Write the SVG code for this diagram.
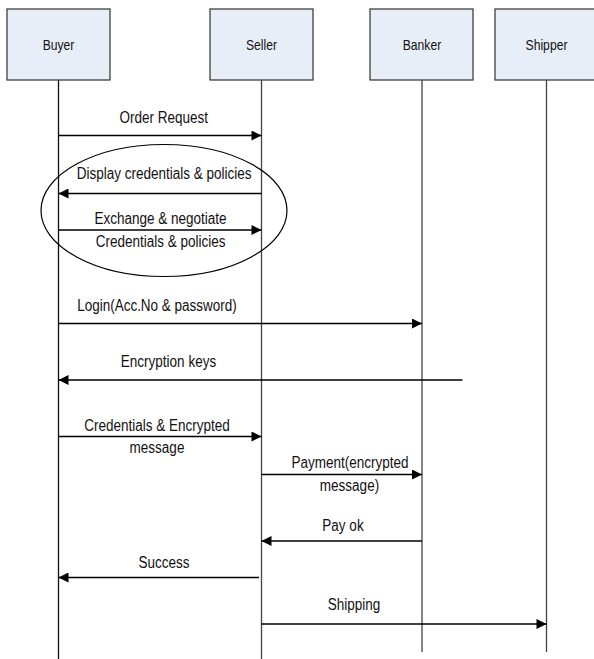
<svg xmlns="http://www.w3.org/2000/svg" width="594" height="659" viewBox="0 0 594 659">
<style>
.box{fill:#E8EEF8;stroke:#404040;stroke-width:1.3}
.life{stroke:#444;stroke-width:1.3;fill:none}
.msg{stroke:#000;stroke-width:1.5;fill:none;marker-end:url(#ah)}
text{font-family:"Liberation Sans Narrow","Liberation Sans",Arial,sans-serif;fill:#111;text-anchor:middle}
.lbl{font-size:16px}
.nl{font-size:15px}
</style>
<defs>
<marker id="ah" viewBox="0 0 10 10" refX="10" refY="5" markerWidth="11" markerHeight="10" markerUnits="userSpaceOnUse" orient="auto">
<path d="M0,0 L10,5 L0,10 Z" fill="#000"/>
</marker>
</defs>
<g id="buyer">
<rect class="box" x="7" y="9" width="103" height="71"/>
<text class="nl" x="58.5" y="50" textLength="31.7" lengthAdjust="spacingAndGlyphs">Buyer</text>
<line class="life" x1="58.5" y1="80" x2="58.5" y2="659" style="stroke:#111"/>
</g>
<g id="seller">
<rect class="box" x="210" y="9" width="103" height="71"/>
<text class="nl" x="261.5" y="50" textLength="31" lengthAdjust="spacingAndGlyphs">Seller</text>
<line class="life" x1="261.5" y1="80" x2="261.5" y2="659"/>
</g>
<g id="banker">
<rect class="box" x="370" y="9" width="103" height="71"/>
<text class="nl" x="422" y="50" textLength="38.5" lengthAdjust="spacingAndGlyphs">Banker</text>
<line class="life" x1="422" y1="80" x2="422" y2="652"/>
</g>
<g id="shipper">
<rect class="box" x="495" y="9" width="103" height="71"/>
<text class="nl" x="546.5" y="50" textLength="41.9" lengthAdjust="spacingAndGlyphs">Shipper</text>
<line class="life" x1="546.5" y1="80" x2="546.5" y2="652"/>
</g>
<g id="negotiation">
<ellipse cx="164" cy="210.5" rx="123" ry="66" fill="none" stroke="#000" stroke-width="1.2"/>
</g>
<g id="connectors">
<line class="msg" x1="58.5" y1="135.5" x2="261.5" y2="135.5"/>
<line class="msg" x1="261.5" y1="193.5" x2="58.5" y2="193.5"/>
<line class="msg" x1="58.5" y1="230" x2="261.5" y2="230"/>
<line class="msg" x1="58.5" y1="323.5" x2="422" y2="323.5"/>
<line class="msg" x1="462.5" y1="380" x2="58.5" y2="380"/>
<line class="msg" x1="58.5" y1="436.5" x2="261.5" y2="436.5"/>
<line class="msg" x1="261.5" y1="474.5" x2="422" y2="474.5"/>
<line class="msg" x1="422" y1="541" x2="261.5" y2="541"/>
<line class="msg" x1="259" y1="577.5" x2="58.5" y2="577.5"/>
<line class="msg" x1="261.5" y1="624" x2="546.5" y2="624"/>
</g>
<g id="labels">
<text class="lbl" x="163.8" y="122.5" textLength="88.5" lengthAdjust="spacingAndGlyphs">Order Request</text>
<text class="lbl" x="164.2" y="178.5" textLength="174.8" lengthAdjust="spacingAndGlyphs">Display credentials &amp; policies</text>
<text class="lbl" x="160.5" y="223.5" textLength="132.1" lengthAdjust="spacingAndGlyphs">Exchange &amp; negotiate</text>
<text class="lbl" x="160.7" y="246.5" textLength="129.8" lengthAdjust="spacingAndGlyphs">Credentials &amp; policies</text>
<text class="lbl" x="157" y="310.5" textLength="159.7" lengthAdjust="spacingAndGlyphs">Login(Acc.No &amp; password)</text>
<text class="lbl" x="168.5" y="366.5" textLength="95.3" lengthAdjust="spacingAndGlyphs">Encryption keys</text>
<text class="lbl" x="157" y="430.5" textLength="145.6" lengthAdjust="spacingAndGlyphs">Credentials &amp; Encrypted</text>
<text class="lbl" x="157" y="452.5" textLength="54.8" lengthAdjust="spacingAndGlyphs">message</text>
<text class="lbl" x="350" y="467.5" textLength="117" lengthAdjust="spacingAndGlyphs">Payment(encrypted</text>
<text class="lbl" x="349.5" y="490.5" textLength="59.3" lengthAdjust="spacingAndGlyphs">message)</text>
<text class="lbl" x="343" y="530.5" textLength="41.3" lengthAdjust="spacingAndGlyphs">Pay ok</text>
<text class="lbl" x="164" y="568" textLength="51" lengthAdjust="spacingAndGlyphs">Success</text>
<text class="lbl" x="354" y="609.5" textLength="52.5" lengthAdjust="spacingAndGlyphs">Shipping</text>
</g>
</svg>
